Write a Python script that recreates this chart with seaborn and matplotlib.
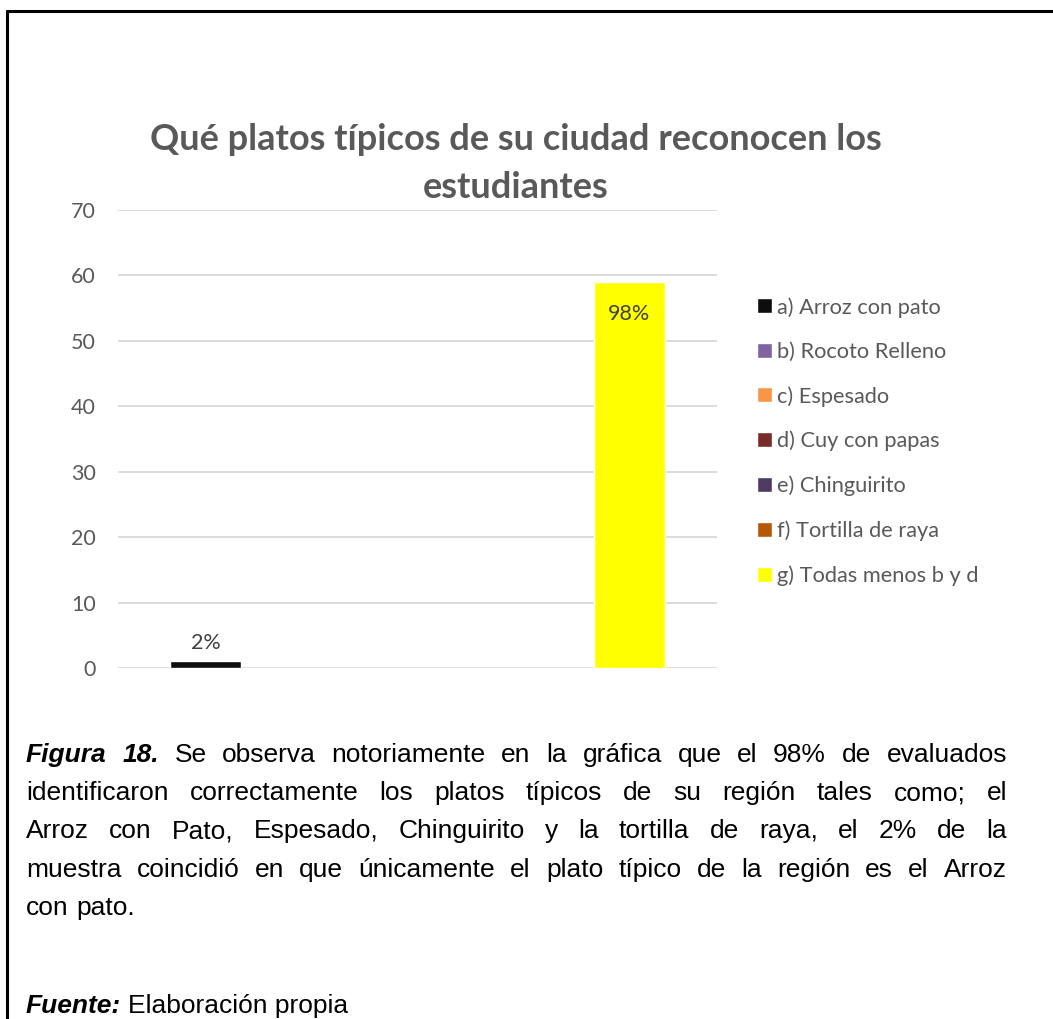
import pandas as pd
import matplotlib
matplotlib.use("Agg")
import matplotlib.pyplot as plt
from matplotlib.lines import Line2D
import seaborn as sns


# =========================
# Datos
# =========================

series = [
    "a) Arroz con pato",
    "b) Rocoto Relleno",
    "c) Espesado",
    "d) Cuy con papas",
    "e) Chinguirito",
    "f) Tortilla de raya",
    "g) Todas menos b y d",
]
valores = [1, 0, 0, 0, 0, 0, 59]
etiquetas = ["2%", "", "", "", "", "", "98%"]
colores = ["#0D0D0D", "#8064A2", "#F79646", "#772C2A", "#4E3B62", "#B65708", "#FFFF00"]
ticks_y = [0, 10, 20, 30, 40, 50, 60, 70]

titulo = ["Qué platos típicos de su ciudad reconocen los", "estudiantes"]

parrafo = [
    "Figura 18. Se observa notoriamente en la gráfica que el 98% de evaluados",
    "identificaron correctamente los platos típicos de su región tales como; el",
    "Arroz con Pato, Espesado, Chinguirito y la tortilla de raya, el 2% de la",
    "muestra coincidió en que únicamente el plato típico de la región es el Arroz",
    "con pato.",
]
fuente = ["Fuente:", "Elaboración propia"]

df = pd.DataFrame({"grupo": [""] * len(series), "serie": series, "valor": valores})


# =========================
# Gráfico
# =========================

sns.set_theme(style="white")
plt.rcParams["font.family"] = ["Lato", "DejaVu Sans"]
gris = "#595959"

W, H = 1053, 1019
fig = plt.figure(figsize=(W / 100, H / 100), dpi=100)
ax = fig.add_axes([118 / W, 1 - 668 / H, 599 / W, 458 / H])

sns.barplot(
    data=df, x="grupo", y="valor", hue="serie", hue_order=series,
    palette=colores, saturation=1, width=0.825, ax=ax, legend=True,
)

ax.set_xlim(-0.5, 0.5)
ax.set_ylim(0, 70)
ax.set_yticks(ticks_y)
ax.set_xticks([])
ax.set_xlabel("")
ax.set_ylabel("")
ax.tick_params(axis="y", length=0, pad=16, labelsize=15.5, labelcolor=gris)
ax.grid(axis="y", color="#D9D9D9", linewidth=1.3)
ax.set_axisbelow(True)
sns.despine(ax=ax, left=True, bottom=True, top=True, right=True)

for cont, lab in zip(ax.containers, etiquetas):
    if lab == "":
        continue
    dentro = lab == "98%"
    ax.bar_label(cont, labels=[lab], padding=-30 if dentro else 6,
                 fontsize=15.5, color="#404040")

handles, labels = ax.get_legend_handles_labels()
ax.legend(handles, labels, loc="upper left", bbox_to_anchor=(757 / W, 1 - 297 / H),
          bbox_transform=fig.transFigure, frameon=False, fontsize=15.7,
          labelcolor=gris, handlelength=0.68, handleheight=0.68, handletextpad=0.26,
          labelspacing=1.11, borderaxespad=0, borderpad=0)

for linea, yy in zip(titulo, [140, 188]):
    fig.text(516 / W, 1 - yy / H, linea, ha="center", va="center", fontsize=26,
             fontweight="bold", color=gris)

# =========================
# Texto de la figura (justificado)
# =========================

renderer = fig.canvas.get_renderer()
x0, x1 = 26 / W, 1007 / W
fs = 19
lineas_y = [762, 800, 838, 877, 915]


def palabras_de(linea, primera):
    out = []
    for i, p in enumerate(linea.split(" ")):
        negrita = primera and i < 2
        out.append((p, negrita))
    return out


def ancho(texto, negrita):
    t = fig.text(0, 0, texto, fontsize=fs, family="Liberation Sans",
                 fontweight="bold" if negrita else "normal",
                 fontstyle="italic" if negrita else "normal")
    w = t.get_window_extent(renderer).width / W
    t.remove()
    return w


for n, (linea, yy) in enumerate(zip(parrafo, lineas_y)):
    pals = palabras_de(linea, n == 0)
    anchos = [ancho(p, b) for p, b in pals]
    justificar = n < len(parrafo) - 1
    if justificar:
        hueco = (x1 - x0 - sum(anchos)) / (len(pals) - 1)
    else:
        hueco = ancho(" ", False)
    x = x0
    for (p, b), w in zip(pals, anchos):
        fig.text(x, 1 - yy / H, p, fontsize=fs, family="Liberation Sans",
                 fontweight="bold" if b else "normal",
                 fontstyle="italic" if b else "normal",
                 color="black", ha="left", va="baseline")
        x += w + hueco

fig.text(x0, 1 - 1013 / H, fuente[0], fontsize=fs, family="Liberation Sans",
         fontweight="bold", fontstyle="italic", color="black", va="baseline")
xf = x0 + ancho(fuente[0], True) + ancho(" ", False)
fig.text(xf, 1 - 1013 / H, fuente[1], fontsize=fs, family="Liberation Sans",
         color="black", va="baseline")

# marco
fig.add_artist(Line2D([7 / W, 1], [1 - 11 / H, 1 - 11 / H], color="black", lw=2.2))
fig.add_artist(Line2D([7 / W, 7 / W], [0, 1 - 11 / H], color="black", lw=2.2))

fig.savefig("out.png", dpi=100)
